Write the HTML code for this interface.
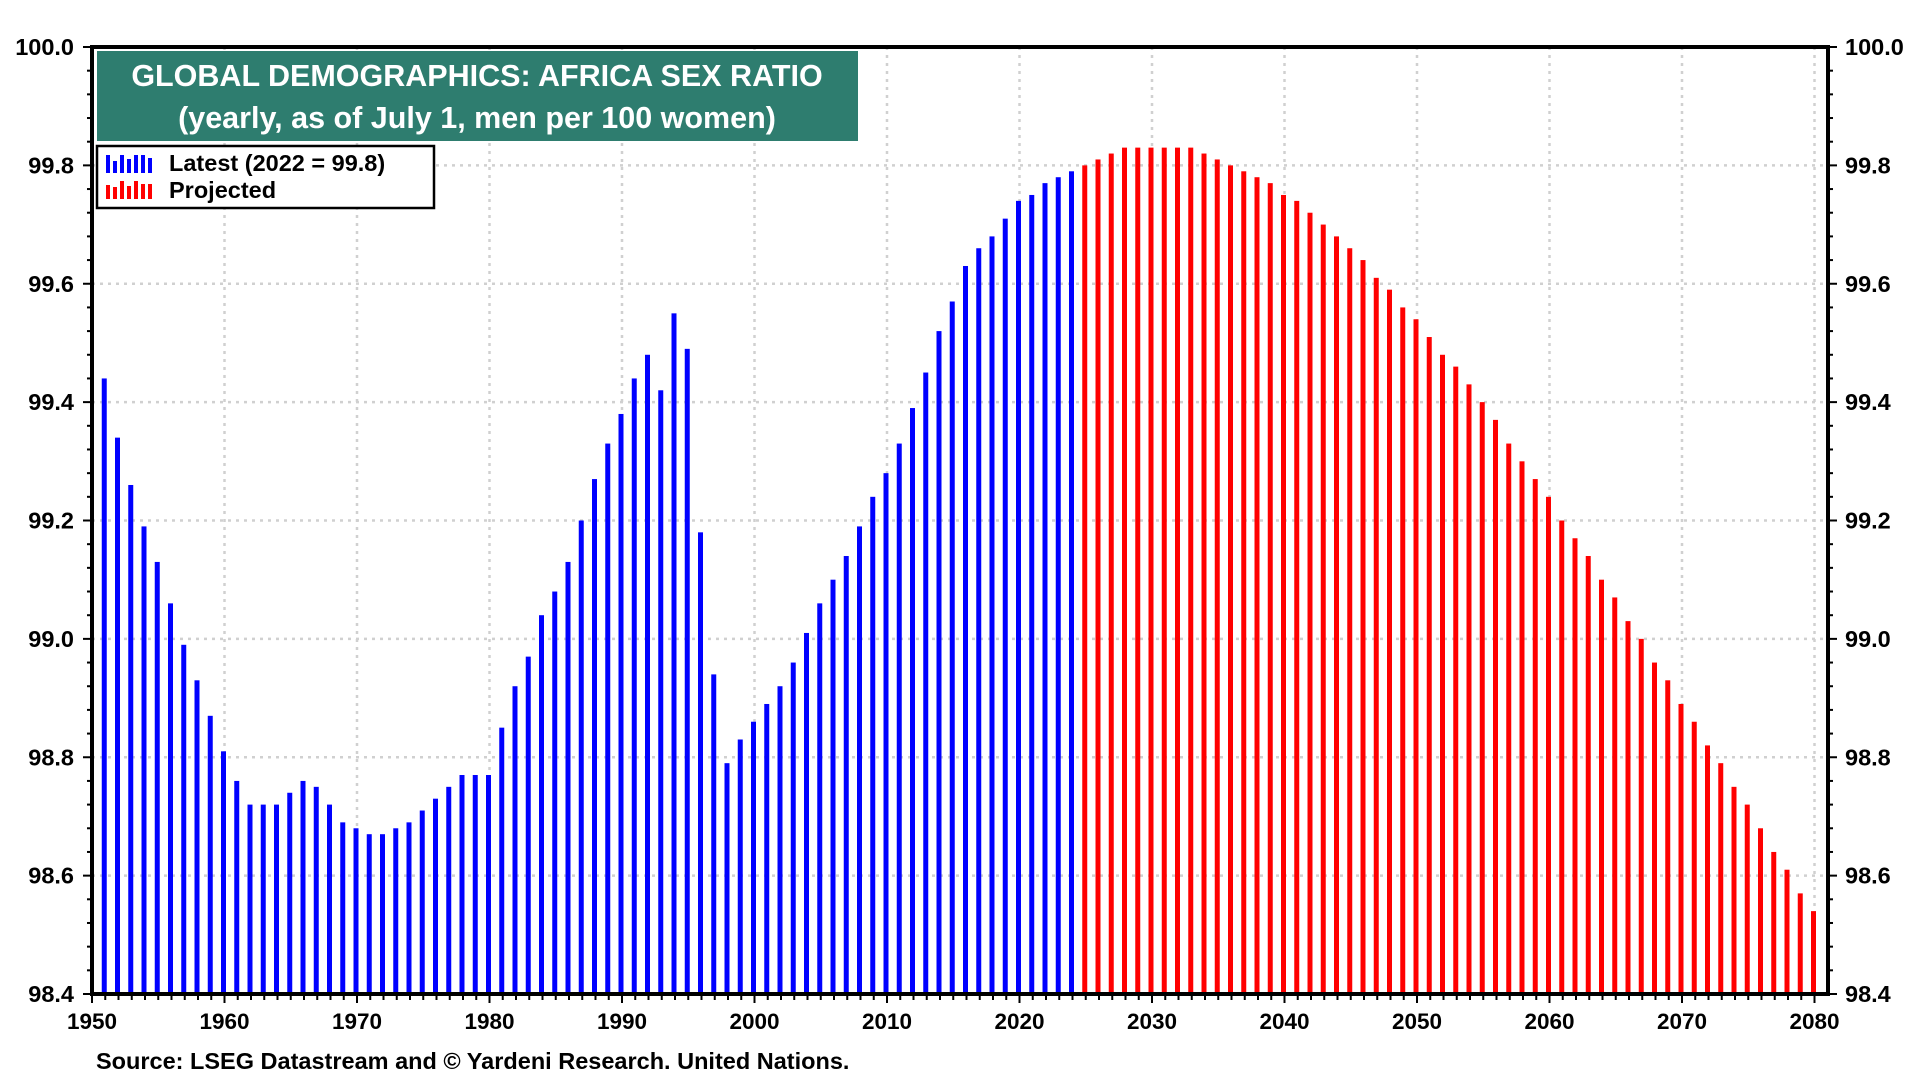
<!DOCTYPE html>
<html><head><meta charset="utf-8"><style>
body{margin:0;background:#fff;}
svg{display:block;font-family:"Liberation Sans",Arial,sans-serif;font-weight:bold;}
</style></head><body>
<svg id="chart" width="1920" height="1080" viewBox="0 0 1920 1080">
<g id="grid"></g>
<g id="bars"></g>
<g id="axes"></g>
<rect x="97" y="51" width="761" height="90" fill="#2e7d6f"/>
<text x="477" y="86" fill="#fff" font-size="30.5" text-anchor="middle">GLOBAL DEMOGRAPHICS: AFRICA SEX RATIO</text>
<text x="477" y="128" fill="#fff" font-size="30.5" text-anchor="middle">(yearly, as of July 1, men per 100 women)</text>
<g>
<rect x="97" y="146" width="337" height="62" fill="#fff" stroke="#000" stroke-width="2.5"/>
<g>
<g fill="#0000ff"><rect x="106" y="155" width="4" height="18"/><rect x="113" y="161" width="4" height="12"/><rect x="120" y="155" width="4" height="18"/><rect x="127" y="159" width="4" height="14"/><rect x="134" y="155" width="4" height="18"/><rect x="141" y="155" width="4" height="18"/><rect x="148" y="158" width="4" height="15"/></g>
<text x="169" y="171" font-size="23.5" fill="#000">Latest (2022 = 99.8)</text></g>
<g>
<g fill="#ff0000"><rect x="106" y="185" width="4" height="14"/><rect x="113" y="187" width="4" height="12"/><rect x="120" y="181" width="4" height="18"/><rect x="127" y="186" width="4" height="13"/><rect x="134" y="181" width="4" height="18"/><rect x="141" y="184" width="4" height="15"/><rect x="148" y="184" width="4" height="15"/></g>
<text x="169" y="198" font-size="23.5" fill="#000">Projected</text></g>
</g>
<text x="96" y="1069" font-size="23.5" fill="#000">Source: LSEG Datastream and © Yardeni Research. United Nations.</text>
</svg>
<script>
const years=[];for(let y=1951;y<=2080;y++)years.push(y);
const latestValues=[99.44,99.34,99.26,99.19,99.13,99.06,98.99,98.93,98.87,98.81,98.76,98.72,98.72,98.72,98.74,98.76,98.75,98.72,98.69,98.68,98.67,98.67,98.68,98.69,98.71,98.73,98.75,98.77,98.77,98.77,98.85,98.92,98.97,99.04,99.08,99.13,99.20,99.27,99.33,99.38,99.44,99.48,99.42,99.55,99.49,99.18,98.94,98.79,98.83,98.86,98.89,98.92,98.96,99.01,99.06,99.10,99.14,99.19,99.24,99.28,99.33,99.39,99.45,99.52,99.57,99.63,99.66,99.68,99.71,99.74,99.75,99.77,99.78,99.79];
const projectedValues=[99.80,99.81,99.82,99.83,99.83,99.83,99.83,99.83,99.83,99.82,99.81,99.80,99.79,99.78,99.77,99.75,99.74,99.72,99.70,99.68,99.66,99.64,99.61,99.59,99.56,99.54,99.51,99.48,99.46,99.43,99.40,99.37,99.33,99.30,99.27,99.24,99.20,99.17,99.14,99.10,99.07,99.03,99.00,98.96,98.93,98.89,98.86,98.82,98.79,98.75,98.72,98.68,98.64,98.61,98.57,98.54];
const yTicks=["98.4","98.6","98.8","99.0","99.2","99.4","99.6","99.8","100.0"];
const xTicks=["1950","1960","1970","1980","1990","2000","2010","2020","2030","2040","2050","2060","2070","2080"];
const L=92,R=1828,T=47,B=994,X0=1950,X1=2080,Y0=98.4,Y1=100;
const xs=v=>L+(v-X0)*(1814.5-L)/(X1-X0);
const ys=v=>B-(v-Y0)*(B-T)/(Y1-Y0);
const NS="http://www.w3.org/2000/svg";
function mk(tag,attrs,parent){const e=document.createElementNS(NS,tag);for(const k in attrs)e.setAttribute(k,attrs[k]);parent.appendChild(e);return e;}
const grid=document.getElementById('grid'),bars=document.getElementById('bars'),axes=document.getElementById('axes');
yTicks.forEach(t=>{const y=ys(+t);
 if(+t>Y0&&+t<Y1){const g=mk('line',{x1:L,x2:R,y1:y,y2:y,stroke:'#d0d0d0','stroke-width':2.5,'stroke-dasharray':'3 5'},grid);
 
 }
 const a=mk('text',{x:74,y:y+8,'font-size':23.5,'text-anchor':'end'},axes);a.textContent=t;
 
 
 const b=mk('text',{x:1845,y:y+8,'font-size':23.5,'text-anchor':'start'},axes);b.textContent=t;
 
 
});
for(let v=Y0;v<=Y1+1e-9;v+=0.04){const y=ys(v);const major=Math.abs((v-Y0)/0.2-Math.round((v-Y0)/0.2))<1e-6;const len=major?9:5;
 mk('line',{x1:L-len,x2:L,y1:y,y2:y,stroke:'#000','stroke-width':2},axes);
 mk('line',{x1:R,x2:R+len,y1:y,y2:y,stroke:'#000','stroke-width':2},axes);}
xTicks.forEach(t=>{const x=xs(+t);
 if(+t>X0){const g=mk('line',{x1:x,x2:x,y1:T,y2:B,stroke:'#d0d0d0','stroke-width':2.5,'stroke-dasharray':'3 5'},grid);
 
 }
 const a=mk('text',{x:x,y:1029,'font-size':22.5,'text-anchor':'middle'},axes);a.textContent=t;
 
 
});
for(let yr=X0;yr<=X1;yr++){const x=xs(yr);const major=yr%10===0;mk('line',{x1:x,x2:x,y1:B,y2:B+(major?9:6),stroke:'#000','stroke-width':2},axes);}
years.forEach((yr,i)=>{const isLatest=i<latestValues.length;const v=isLatest?latestValues[i]:projectedValues[i-latestValues.length];
 if(v===undefined)return;const x=xs(yr)-1,y=ys(v);
 const r=mk('rect',{x:x-2.5,y:y,width:5,height:B-y,fill:isLatest?'#0000ff':'#ff0000'},bars);
 
 
});
const fr=mk('rect',{x:L,y:T,width:R-L,height:B-T,fill:'none',stroke:'#000','stroke-width':4},axes);


</script>
</body></html>
